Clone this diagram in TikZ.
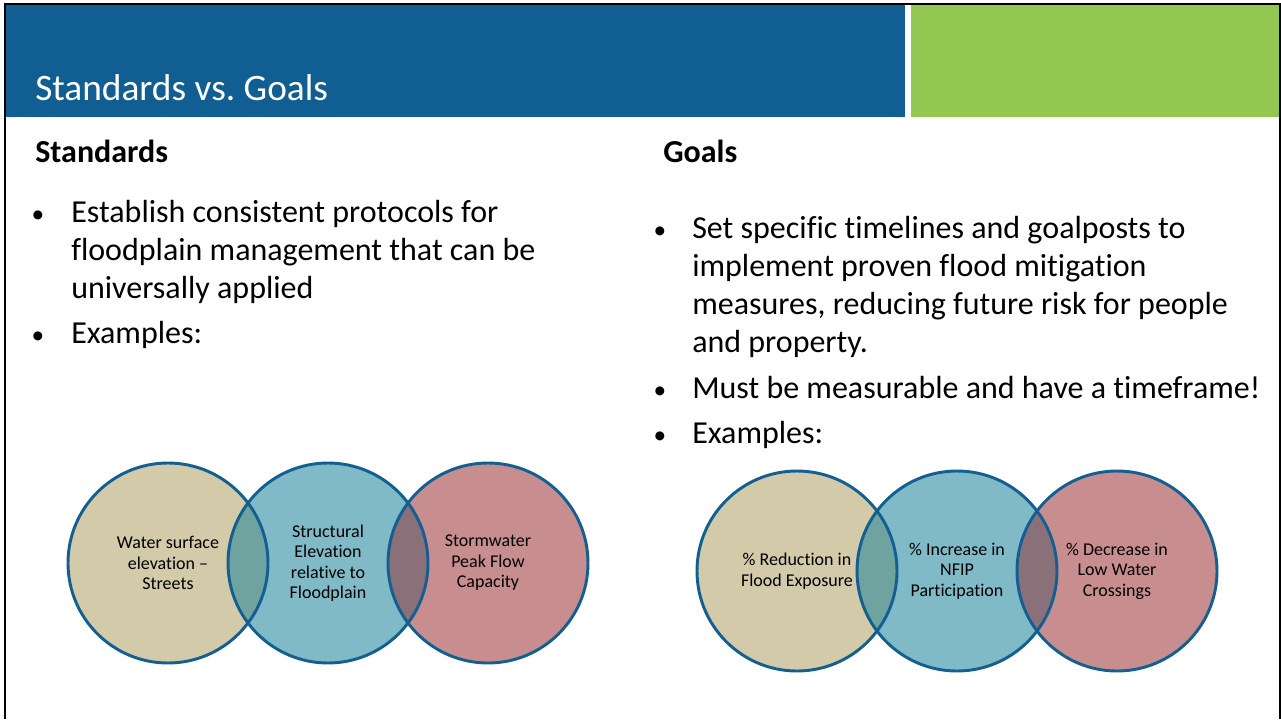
\documentclass[tikz,border=0pt]{standalone}
\usepackage{fontspec}
\setmainfont{Carlito}[Ligatures={TeX,NoCommon}]
\frenchspacing

\definecolor{titleblue}{HTML}{115E93}
\definecolor{accentgreen}{HTML}{92C852}
\definecolor{venntan}{HTML}{D2CAA8}
\definecolor{vennteal}{HTML}{80BAC7}
\definecolor{vennpink}{HTML}{C88E8F}
\definecolor{lensgreen}{HTML}{6EA39F}
\definecolor{lensmauve}{HTML}{897079}
\definecolor{vennline}{HTML}{145F91}

\begin{document}
\begin{tikzpicture}[x=0.75pt,y=-0.75pt,
  heading/.style={anchor=base west, inner sep=0pt, font=\fontsize{24}{28.5}\selectfont\bfseries},
  bodytext/.style={anchor=base west, inner sep=0pt, align=left, font=\fontsize{24}{28.5}\selectfont},
  bulletmark/.style={anchor=base, inner sep=0pt, font=\fontsize{19}{24}\selectfont},
  vcircle/.style={circle, minimum size=150pt, inner sep=0pt},
  vline/.style={draw=vennline, line width=2.2pt},
  vtext/.style={align=center, inner sep=0pt, font=\fontsize{13.5}{15.4}\selectfont}]

% Slide canvas
\useasboundingbox (0,0) rectangle (1281,719);
\fill[white] (0,0) rectangle (1281,719);

% Title bars
\fill[titleblue] (5,3) rectangle (905,117);
\fill[accentgreen] (911,3) rectangle (1280,117);
\draw[line width=1.5pt] (5,719) -- (5,4) -- (1280,4) -- (1280,719);
\node[anchor=base west, inner sep=0pt, text=white,
  font=\fontsize{28}{33}\selectfont] (title) at (35,100) {Standards vs. Goals};

% Column headings
\node[heading] (stdhead) at (35,162) {Standards};
\node[heading] (goalhead) at (663,162) {Goals};

% Standards bullets (base = last line)
\node[bulletmark] (sb1) at (38,222) {•};
\node[bodytext] (st1) at (71,298) {Establish consistent protocols for\\
  floodplain management that can be\\universally applied};
\node[bulletmark] (sb2) at (38,343) {•};
\node[bodytext] (st2) at (71,343) {Examples:};

% Goals bullets
\node[bulletmark] (gb1) at (660,238) {•};
\node[bodytext] (gt1) at (692,352) {Set specific timelines and goalposts to\\
  implement proven flood mitigation\\measures, reducing future risk for people\\and property.};
\node[bulletmark] (gb2) at (660,398) {•};
\node[bodytext] (gt2) at (692,398) {Must be measurable and have a timeframe!};
\node[bulletmark] (gb3) at (660,443) {•};
\node[bodytext] (gt3) at (692,443) {Examples:};

% Standards Venn
\node[vcircle, fill=venntan] (sa) at (168,563) {};
\node[vcircle, fill=vennteal] (sb) at (328,563) {};
\node[vcircle, fill=vennpink] (sc) at (488,563) {};

% Goals Venn
\node[vcircle, fill=venntan] (ga) at (797,571) {};
\node[vcircle, fill=vennteal] (gb) at (957,571) {};
\node[vcircle, fill=vennpink] (gc) at (1117,571) {};

% Overlap lenses
\foreach \l/\r/\c in {sa/sb/lensgreen, sb/sc/lensmauve, ga/gb/lensgreen, gb/gc/lensmauve}{
  \begin{scope}
    \clip (\l.center) circle[radius=100];
    \fill[\c] (\r.center) circle[radius=100];
  \end{scope}
}

% Outlines
\foreach \n in {sa,sb,sc,ga,gb,gc}
  \draw[vline] (\n.center) circle[radius=100];

% Venn labels
\node[vtext] (sat) at (sa) {Water surface\\elevation –\\Streets};
\node[vtext] (sbt) at (sb) {Structural\\Elevation\\relative to\\Floodplain};
\node[vtext] (sct) at (sc) {Stormwater\\Peak Flow\\Capacity};
\node[vtext] (gat) at (ga) {\% Reduction in\\Flood Exposure};
\node[vtext] (gbt) at (gb) {\% Increase in\\NFIP\\Participation};
\node[vtext] (gct) at (gc) {\% Decrease in\\Low Water\\Crossings};

\end{tikzpicture}
\end{document}
